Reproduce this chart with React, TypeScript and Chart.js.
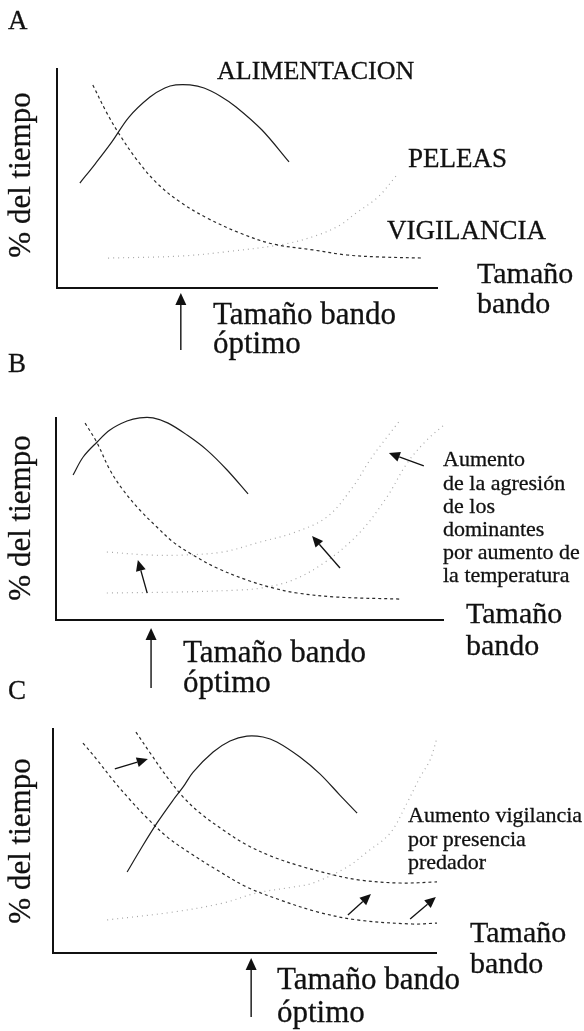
import React, { useEffect, useRef } from "react";
import { Chart, registerables } from "chart.js";

Chart.register(...registerables);

const FONT = '"Liberation Serif", "Times New Roman", serif';

// ---------- Panel A data (x: tamaño bando 0-100, y: % del tiempo 0-100) ----------
const aAlimX = [6.0, 10.2, 14.4, 18.9, 24.4, 28.3, 31.2, 34.9, 38.6, 42.8, 47.0, 53.8, 60.9];
const aAlimY = [47.7, 56.8, 66.4, 77.7, 86.8, 90.9, 92.3, 92.3, 90.9, 87.3, 82.3, 71.8, 57.3];
const aVigX = [9.4, 13.1, 16.5, 21.0, 26.2, 32.3, 39.4, 48.0, 56.7, 67.2, 76.1, 84.8, 96.1];
const aVigY = [92.3, 79.5, 69.5, 58.2, 47.7, 39.1, 31.8, 25.0, 20.0, 17.3, 15.0, 14.1, 13.6];
const aPelX = [13.4, 32.3, 44.1, 59.8, 68.5, 74.3, 78.5, 84.3, 89.2];
const aPelY = [13.6, 14.5, 16.4, 20.0, 24.1, 28.6, 34.1, 41.4, 51.4];
const aOptimo = 32.5;

// ---------- Panel B data ----------
const bAlimX = [4.4, 7.0, 10.6, 13.9, 18.3, 21.6, 25.0, 28.9, 33.8, 38.9, 44.1, 49.5];
const bAlimY = [71.4, 80.3, 87.7, 93.6, 98.0, 99.6, 99.6, 97.0, 91.1, 83.7, 73.9, 62.1];
const bVigX = [7.5, 10.6, 13.9, 17.3, 21.6, 26.0, 30.2, 35.3, 41.5, 49.2, 55.9, 62.1, 72.4, 88.9];
const bVigY = [97.0, 87.2, 73.9, 64.0, 54.2, 45.8, 38.4, 32.0, 25.6, 19.7, 15.8, 13.3, 11.3, 10.3];
const bPelX = [13.1, 32.0, 47.4, 53.1, 61.1, 69.8, 78.4, 85.3, 90.5, 95.6, 100];
const bPelY = [13.3, 13.8, 14.8, 15.8, 19.7, 29.1, 43.3, 60.6, 77.3, 88.7, 96.1];
const bPelTempX = [13.1, 24.2, 32.7, 43.0, 52.6, 61.1, 69.8, 76.5, 80.9, 85.3, 88.7];
const bPelTempY = [33.5, 32.0, 32.0, 33.5, 38.4, 42.9, 50.7, 65.5, 78.8, 90.1, 98.5];
const bArrowFromX = [23.5, 73.2, 94.8];
const bArrowFromY = [13.3, 25.6, 75.9];
const bArrowToX = [21.1, 66.0, 85.8];
const bArrowToY = [29.6, 41.4, 82.3];
const bOptimo = 24.5;

// ---------- Panel C data ----------
const cAlimX = [19.3, 22.7, 27.1, 31.3, 33.9, 36.5, 41.7, 46.1, 50.5, 54.7, 58.3, 64.3, 69.5, 74.7, 79.2];
const cAlimY = [36.0, 45.8, 57.8, 68.0, 73.8, 80.4, 89.3, 94.2, 96.4, 96.0, 93.8, 87.1, 79.6, 70.2, 62.2];
const cVigX = [7.8, 11.5, 15.6, 20.1, 24.5, 29.7, 35.7, 42.7, 50.5, 59.1, 69.0, 79.2, 93.5, 100];
const cVigY = [93.3, 85.8, 76.9, 68.0, 60.0, 51.6, 44.4, 36.9, 29.3, 23.6, 18.2, 14.7, 12.9, 13.3];
const cVigPredX = [21.6, 25.3, 29.7, 33.9, 38.3, 44.3, 50.5, 57.3, 64.3, 72.1, 79.9, 90.4, 100];
const cVigPredY = [98.2, 88.9, 78.2, 69.3, 62.2, 54.7, 48.0, 42.7, 38.7, 35.1, 32.4, 31.1, 31.6];
const cPelX = [14.1, 31.3, 44.3, 53.1, 62.5, 67.7, 76.6, 81.8, 87.8, 92.2, 95.6, 98.2, 100];
const cPelY = [14.7, 18.2, 22.2, 26.7, 29.3, 31.1, 38.2, 44.9, 53.3, 66.7, 78.2, 85.8, 95.6];
const cArrowFromX = [16.1, 76.8, 93.0];
const cArrowFromY = [81.8, 16.9, 15.1];
const cArrowToX = [24.7, 82.8, 99.7];
const cArrowToY = [86.2, 26.2, 24.9];
const cOptimo = 51.6;

// ---------- styles ----------
const STYLE_ALIM = { borderColor: "#1e1e1e", borderWidth: 1.2, borderDash: [] as number[] };
const STYLE_VIG = { borderColor: "#2a2a2a", borderWidth: 1.2, borderDash: [3, 3] };
const STYLE_PEL = { borderColor: "#a8a8a8", borderWidth: 1.2, borderDash: [1, 4] };

function pts(xs: number[], ys: number[]) {
  return xs.map((x, i) => ({ x, y: ys[i] }));
}

type Series = { xs: number[]; ys: number[]; style: any };
type PanelProps = {
  top: number;
  height: number;
  pad: { left: number; right: number; top: number; bottom: number };
  series: Series[];
  arrows: { fx: number[]; fy: number[]; tx: number[]; ty: number[] } | null;
  optimo: number;
  optTail: number;
  optTip: number;
};

function drawArrow(ctx: CanvasRenderingContext2D, x1: number, y1: number, x2: number, y2: number, hl: number, hw: number, lw: number) {
  const ang = Math.atan2(y2 - y1, x2 - x1);
  const bx = x2 - hl * Math.cos(ang);
  const by = y2 - hl * Math.sin(ang);
  ctx.save();
  ctx.strokeStyle = "#111";
  ctx.fillStyle = "#111";
  ctx.lineWidth = lw;
  ctx.setLineDash([]);
  ctx.beginPath();
  ctx.moveTo(x1, y1);
  ctx.lineTo(bx, by);
  ctx.stroke();
  ctx.beginPath();
  ctx.moveTo(x2, y2);
  ctx.lineTo(bx + (hw / 2) * Math.sin(ang), by - (hw / 2) * Math.cos(ang));
  ctx.lineTo(bx - (hw / 2) * Math.sin(ang), by + (hw / 2) * Math.cos(ang));
  ctx.closePath();
  ctx.fill();
  ctx.restore();
}

function Panel(p: PanelProps) {
  const ref = useRef<HTMLCanvasElement | null>(null);
  useEffect(() => {
    if (!ref.current) return;
    const decor = {
      id: "decor",
      afterDatasetsDraw(chart: any) {
        const ctx: CanvasRenderingContext2D = chart.ctx;
        const { left, right, top, bottom } = chart.chartArea;
        const xs = chart.scales.x;
        const ys = chart.scales.y;
        ctx.save();
        ctx.strokeStyle = "#111";
        ctx.lineWidth = 2;
        ctx.setLineDash([]);
        ctx.beginPath();
        ctx.moveTo(left, top);
        ctx.lineTo(left, bottom);
        ctx.lineTo(right, bottom);
        ctx.stroke();
        ctx.restore();
        if (p.arrows) {
          const a = p.arrows;
          a.fx.forEach((_, i) => {
            drawArrow(
              ctx,
              xs.getPixelForValue(a.fx[i]),
              ys.getPixelForValue(a.fy[i]),
              xs.getPixelForValue(a.tx[i]),
              ys.getPixelForValue(a.ty[i]),
              11,
              10,
              1.3
            );
          });
        }
        const ox = xs.getPixelForValue(p.optimo);
        drawArrow(ctx, ox, bottom + p.optTail, ox, bottom + p.optTip, 12, 11, 1.4);
      },
    };
    const chart = new Chart(ref.current, {
      type: "line",
      data: {
        datasets: p.series.map((s) => ({
          data: pts(s.xs, s.ys),
          borderColor: s.style.borderColor,
          borderWidth: s.style.borderWidth,
          borderDash: s.style.borderDash,
          tension: 0.35,
          fill: false,
          pointRadius: 0,
          clip: false as any,
        })),
      },
      options: {
        responsive: false,
        animation: false,
        layout: { padding: p.pad },
        plugins: { legend: { display: false }, tooltip: { enabled: false } },
        scales: {
          x: { type: "linear", min: 0, max: 100, display: false },
          y: { type: "linear", min: 0, max: 100, display: false },
        },
      },
      plugins: [decor],
    });
    return () => chart.destroy();
  }, []);
  return (
    <canvas
      ref={ref}
      width={584}
      height={p.height}
      style={{ position: "absolute", left: 0, top: p.top, width: 584, height: p.height }}
    />
  );
}

const textBase: any = {
  fontFamily: FONT,
  whiteSpace: "nowrap",
  color: "#111",
  WebkitTextStroke: "0.3px #111",
};

function Label({ x, base, size, children }: { x: number; base: number; size: number; children: any }) {
  return (
    <div
      style={{
        ...textBase,
        position: "absolute",
        left: x,
        top: base - 0.891 * size,
        fontSize: size,
        lineHeight: `${size * 1.107}px`,
      }}
    >
      {children}
    </div>
  );
}

function YTitle({ cx, cy }: { cx: number; cy: number }) {
  return (
    <div
      style={{
        ...textBase,
        position: "absolute",
        left: cx,
        top: cy,
        transform: "translate(-50%, -50%) rotate(-90deg)",
        fontSize: 31,
        lineHeight: `${31 * 1.107}px`,
      }}
    >
      % del tiempo
    </div>
  );
}

export default function App() {
  const BIG = 30;
  const SMALL = 22;
  return (
    <div style={{ position: "absolute", left: 0, top: 0, width: 584, height: 1031, background: "#fff", overflow: "hidden" }}>
      <Panel
        top={0}
        height={360}
        pad={{ left: 57, right: 146, top: 68, bottom: 72 }}
        series={[
          { xs: aAlimX, ys: aAlimY, style: STYLE_ALIM },
          { xs: aVigX, ys: aVigY, style: STYLE_VIG },
          { xs: aPelX, ys: aPelY, style: STYLE_PEL },
        ]}
        arrows={null}
        optimo={aOptimo}
        optTail={62}
        optTip={5}
      />
      <Panel
        top={360}
        height={340}
        pad={{ left: 56, right: 140, top: 57, bottom: 80 }}
        series={[
          { xs: bAlimX, ys: bAlimY, style: STYLE_ALIM },
          { xs: bVigX, ys: bVigY, style: STYLE_VIG },
          { xs: bPelX, ys: bPelY, style: STYLE_PEL },
          { xs: bPelTempX, ys: bPelTempY, style: STYLE_PEL },
        ]}
        arrows={{ fx: bArrowFromX, fy: bArrowFromY, tx: bArrowToX, ty: bArrowToY }}
        optimo={bOptimo}
        optTail={68}
        optTip={8}
      />
      <Panel
        top={700}
        height={331}
        pad={{ left: 53, right: 147, top: 28, bottom: 78 }}
        series={[
          { xs: cAlimX, ys: cAlimY, style: STYLE_ALIM },
          { xs: cVigX, ys: cVigY, style: STYLE_VIG },
          { xs: cVigPredX, ys: cVigPredY, style: STYLE_VIG },
          { xs: cPelX, ys: cPelY, style: STYLE_PEL },
        ]}
        arrows={{ fx: cArrowFromX, fy: cArrowFromY, tx: cArrowToX, ty: cArrowToY }}
        optimo={cOptimo}
        optTail={64}
        optTip={5}
      />

      {/* Panel A text */}
      <Label x={8} base={30} size={27}>A</Label>
      <YTitle cx={20} cy={175} />
      <Label x={217} base={80} size={26}>ALIMENTACION</Label>
      <Label x={408} base={168} size={27}>PELEAS</Label>
      <Label x={387} base={240} size={27}>VIGILANCIA</Label>
      <Label x={477} base={283} size={BIG}>Tamaño</Label>
      <Label x={477} base={313} size={BIG}>bando</Label>
      <Label x={213} base={325} size={31}>Tamaño bando</Label>
      <Label x={213} base={354} size={31}>óptimo</Label>

      {/* Panel B text */}
      <Label x={8} base={373} size={27}>B</Label>
      <YTitle cx={20} cy={518} />
      <Label x={443} base={467} size={SMALL}>Aumento</Label>
      <Label x={443} base={491} size={SMALL}>de la agresión</Label>
      <Label x={443} base={514} size={SMALL}>de los</Label>
      <Label x={443} base={537} size={SMALL}>dominantes</Label>
      <Label x={443} base={560} size={SMALL}>por aumento de</Label>
      <Label x={443} base={583} size={SMALL}>la temperatura</Label>
      <Label x={466} base={623} size={BIG}>Tamaño</Label>
      <Label x={466} base={655} size={BIG}>bando</Label>
      <Label x={183} base={663} size={31}>Tamaño bando</Label>
      <Label x={183} base={693} size={31}>óptimo</Label>

      {/* Panel C text */}
      <Label x={8} base={700} size={27}>C</Label>
      <YTitle cx={20} cy={841} />
      <Label x={408} base={823} size={SMALL}>Aumento vigilancia</Label>
      <Label x={408} base={847} size={SMALL}>por presencia</Label>
      <Label x={408} base={870} size={SMALL}>predador</Label>
      <Label x={470} base={942} size={BIG}>Tamaño</Label>
      <Label x={470} base={973} size={BIG}>bando</Label>
      <Label x={277} base={990} size={31}>Tamaño bando</Label>
      <Label x={277} base={1023} size={31}>óptimo</Label>
    </div>
  );
}
